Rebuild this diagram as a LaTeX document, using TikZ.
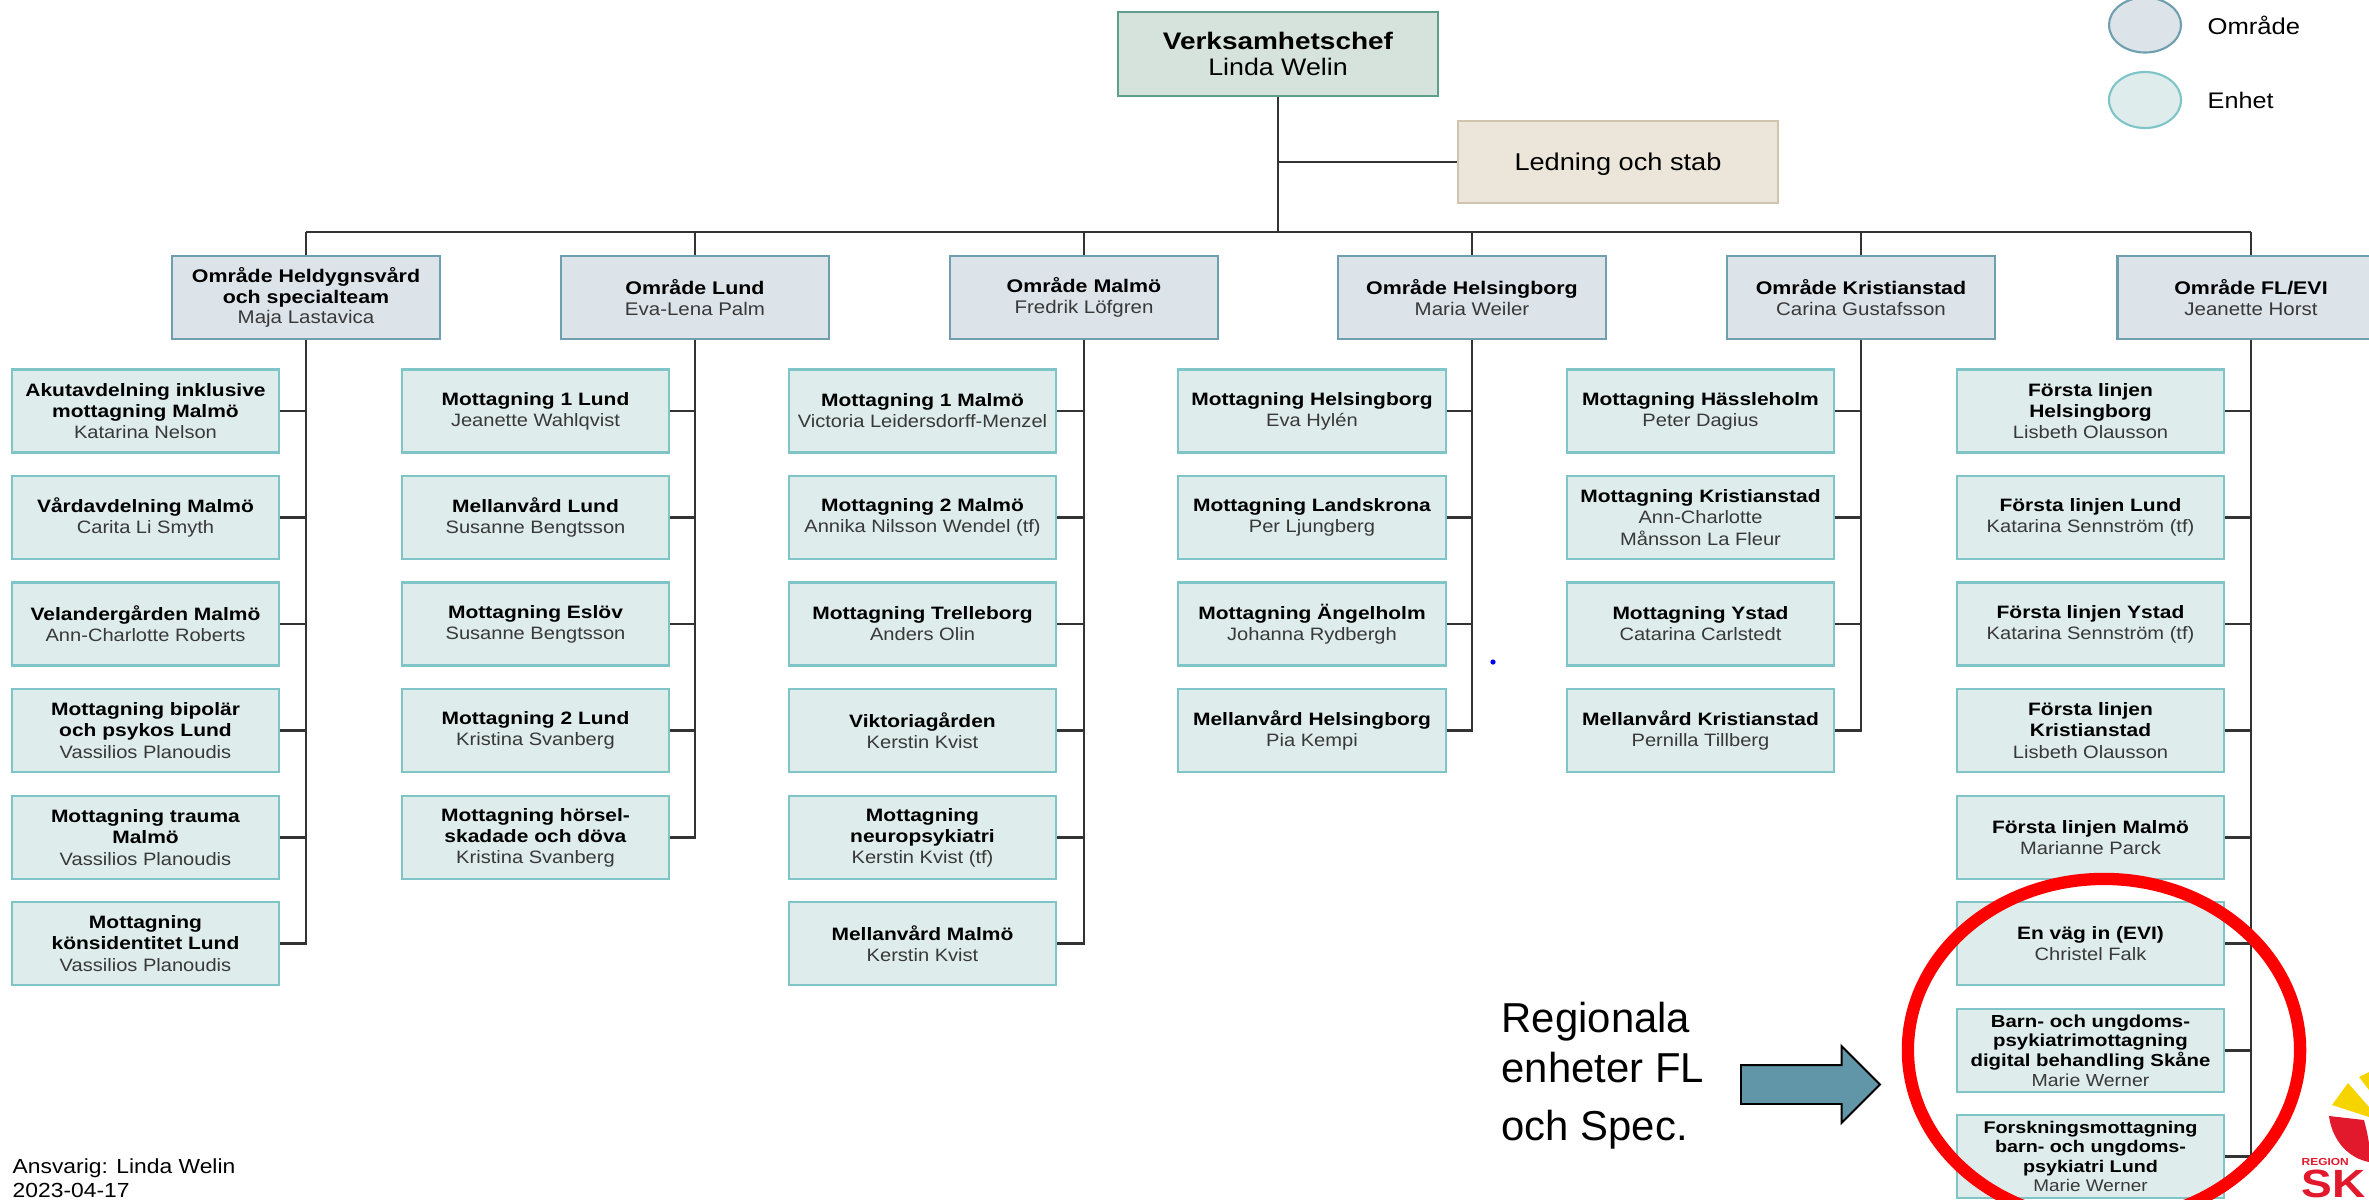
\documentclass[tikz,border=0pt]{standalone}
\usepackage{fontspec}
\setmainfont[FakeStretch=1.12,BoldFeatures={FakeStretch=1.17}]{Liberation Sans}
\newfontfamily\arialfont{Liberation Sans}
\usetikzlibrary{shapes.geometric,shapes.arrows}
\definecolor{unitfill}{HTML}{DEECEC}
\definecolor{unitline}{HTML}{7FC4C6}
\definecolor{areafill}{HTML}{DCE3E9}
\definecolor{arealine}{HTML}{6F9FAF}
\definecolor{chieffill}{HTML}{D6E2DC}
\definecolor{chiefline}{HTML}{5E9F8C}
\definecolor{stabfill}{HTML}{ECE5DA}
\definecolor{stabline}{HTML}{D0C4AE}
\definecolor{arrowfill}{HTML}{6096A8}
\definecolor{logored}{HTML}{E2182D}
\definecolor{logoyellow}{HTML}{F5D400}
\newcommand{\hd}[1]{\textcolor{black}{\textbf{#1}}\\}
\tikzset{
  box/.style={rectangle,align=center,inner sep=0pt,line width=0.6pt,text=black!78,font=\fontsize{5.1}{6}\selectfont},
  unit/.style={box,draw=unitline,fill=unitfill,minimum width=2.67cm,minimum height=0.83cm},
  area/.style={box,draw=arealine,fill=areafill,minimum width=2.67cm,minimum height=0.83cm,font=\fontsize{5.2}{5.9}\selectfont},
  link/.style={draw=black!80,line width=0.6pt},
}
\begin{document}
\begin{tikzpicture}[x=0.01cm,y=-0.01cm]
  \useasboundingbox (0,0) rectangle (2369,1199);

  \node[box,draw=chiefline,fill=chieffill,minimum width=3.2cm,minimum height=0.84cm,text=black,font=\fontsize{6.8}{7.6}\selectfont] at (1278,54) (chef) {\hd{Verksamhetschef}Linda Welin};
  \node[box,draw=stabline,fill=stabfill,minimum width=3.2cm,minimum height=0.82cm,text=black,font=\fontsize{6.9}{7.6}\selectfont] at (1618,162) (stab) {\raisebox{0pt}[4.9pt][0pt]{Ledning och stab}};
  \coordinate (bus) at (1278,232);

  % omraden
  \node[area] at (306,297.5) (heldygn) {\hd{Område Heldygnsvård}\hd{och specialteam}Maja Lastavica};
  \node[area] at (695,297.5) (lund) {\hd{Område Lund}Eva-Lena Palm};
  \node[area] at (1084,297.5) (malmo) {\hd{Område Malmö}Fredrik Löfgren};
  \node[area] at (1472,297.5) (hbg) {\hd{Område Helsingborg}Maria Weiler};
  \node[area] at (1861,297.5) (krist) {\hd{Område Kristianstad}Carina Gustafsson};
  \node[area] at (2251,297.5) (fl) {\hd{Område FL/EVI}Jeanette Horst};

  % enheter under heldygn
  \node[unit] at (145.5,411) (h1) {\hd{Akutavdelning inklusive}\hd{mottagning Malmö}Katarina Nelson};
  \node[unit] at (145.5,517.5) (h2) {\hd{Vårdavdelning Malmö}Carita Li Smyth};
  \node[unit] at (145.5,624) (h3) {\hd{Velandergården Malmö}Ann-Charlotte Roberts};
  \node[unit] at (145.5,730.5) (h4) {\hd{Mottagning bipolär}\hd{och psykos Lund}Vassilios Planoudis};
  \node[unit] at (145.5,837.5) (h5) {\hd{Mottagning trauma}\hd{Malmö}Vassilios Planoudis};
  \node[unit] at (145.5,943.5) (h6) {\hd{Mottagning}\hd{könsidentitet Lund}Vassilios Planoudis};

  % enheter under lund
  \node[unit] at (535.5,411) (l1) {\hd{Mottagning 1 Lund}Jeanette Wahlqvist};
  \node[unit] at (535.5,517.5) (l2) {\hd{Mellanvård Lund}Susanne Bengtsson};
  \node[unit] at (535.5,624) (l3) {\hd{Mottagning Eslöv}Susanne Bengtsson};
  \node[unit] at (535.5,730.5) (l4) {\hd{Mottagning 2 Lund}Kristina Svanberg};
  \node[unit] at (535.5,837.5) (l5) {\hd{Mottagning hörsel-}\hd{skadade och döva}Kristina Svanberg};

  % enheter under malmo
  \node[unit] at (922.5,411) (m1) {\hd{Mottagning 1 Malmö}Victoria Leidersdorff-Menzel};
  \node[unit] at (922.5,517.5) (m2) {\hd{Mottagning 2 Malmö}Annika Nilsson Wendel (tf)};
  \node[unit] at (922.5,624) (m3) {\hd{Mottagning Trelleborg}Anders Olin};
  \node[unit] at (922.5,730.5) (m4) {\hd{Viktoriagården}Kerstin Kvist};
  \node[unit] at (922.5,837.5) (m5) {\hd{Mottagning}\hd{neuropsykiatri}Kerstin Kvist (tf)};
  \node[unit] at (922.5,943.5) (m6) {\hd{Mellanvård Malmö}Kerstin Kvist};

  % enheter under helsingborg
  \node[unit] at (1312,411) (b1) {\hd{Mottagning Helsingborg}Eva Hylén};
  \node[unit] at (1312,517.5) (b2) {\hd{Mottagning Landskrona}Per Ljungberg};
  \node[unit] at (1312,624) (b3) {\hd{Mottagning Ängelholm}Johanna Rydbergh};
  \node[unit] at (1312,730.5) (b4) {\hd{Mellanvård Helsingborg}Pia Kempi};

  % enheter under kristianstad
  \node[unit] at (1700.5,411) (k1) {\hd{Mottagning Hässleholm}Peter Dagius};
  \node[unit] at (1700.5,517.5) (k2) {\hd{Mottagning Kristianstad}Ann-Charlotte\\Månsson La Fleur};
  \node[unit] at (1700.5,624) (k3) {\hd{Mottagning Ystad}Catarina Carlstedt};
  \node[unit] at (1700.5,730.5) (k4) {\hd{Mellanvård Kristianstad}Pernilla Tillberg};

  % enheter under fl/evi
  \node[unit] at (2090.5,411) (f1) {\hd{Första linjen}\hd{Helsingborg}Lisbeth Olausson};
  \node[unit] at (2090.5,517.5) (f2) {\hd{Första linjen Lund}Katarina Sennström (tf)};
  \node[unit] at (2090.5,624) (f3) {\hd{Första linjen Ystad}Katarina Sennström (tf)};
  \node[unit] at (2090.5,730.5) (f4) {\hd{Första linjen}\hd{Kristianstad}Lisbeth Olausson};
  \node[unit] at (2090.5,837.5) (f5) {\hd{Första linjen Malmö}Marianne Parck};
  \node[unit] at (2090.5,943.5) (f6) {\hd{En väg in (EVI)}Christel Falk};
  \node[unit,font=\fontsize{4.95}{5.6}\selectfont] at (2090.5,1050.5) (f7) {\hd{Barn- och ungdoms-}\hd{psykiatrimottagning}\hd{digital behandling Skåne}Marie Werner};
  \node[unit,font=\fontsize{4.8}{5.5}\selectfont] at (2090.5,1156.5) (f8) {\hd{Forskningsmottagning}\hd{barn- och ungdoms-}\hd{psykiatri Lund}Marie Werner};

  \path[link]
    (chef) edge (bus)
    (stab) edge (stab -| chef)
    (bus) edge (bus -| fl) (bus) edge (bus -| heldygn)
    (bus -| fl) edge (fl) (bus -| krist) edge (krist) (bus -| hbg) edge (hbg)
    (bus -| malmo) edge (malmo) (bus -| lund) edge (lund) (bus -| heldygn) edge (heldygn)
    ;
  \draw[link] (h6.east) -| (heldygn.south);
  \draw[link] (h1.east) -- (h1 -| heldygn) (h2.east) -- (h2 -| heldygn) (h3.east) -- (h3 -| heldygn) (h4.east) -- (h4 -| heldygn) (h5.east) -- (h5 -| heldygn);
  \draw[link] (l5.east) -| (lund.south);
  \draw[link] (l1.east) -- (l1 -| lund) (l2.east) -- (l2 -| lund) (l3.east) -- (l3 -| lund) (l4.east) -- (l4 -| lund);
  \draw[link] (m6.east) -| (malmo.south);
  \draw[link] (m1.east) -- (m1 -| malmo) (m2.east) -- (m2 -| malmo) (m3.east) -- (m3 -| malmo) (m4.east) -- (m4 -| malmo) (m5.east) -- (m5 -| malmo);
  \draw[link] (b4.east) -| (hbg.south);
  \draw[link] (b1.east) -- (b1 -| hbg) (b2.east) -- (b2 -| hbg) (b3.east) -- (b3 -| hbg);
  \draw[link] (k4.east) -| (krist.south);
  \draw[link] (k1.east) -- (k1 -| krist) (k2.east) -- (k2 -| krist) (k3.east) -- (k3 -| krist);
  \draw[link] (f8.east) -| (fl.south);
  \draw[link] (f1.east) -- (f1 -| fl) (f2.east) -- (f2 -| fl) (f3.east) -- (f3 -| fl) (f4.east) -- (f4 -| fl) (f5.east) -- (f5 -| fl) (f6.east) -- (f6 -| fl) (f7.east) -- (f7 -| fl);

  % teckenforklaring
  \node[ellipse,draw=arealine,fill=areafill,line width=0.6pt,minimum width=0.72cm,minimum height=0.55cm,inner sep=0pt] at (2145,25) (legarea) {};
  \node[ellipse,draw=unitline,fill=unitfill,line width=0.6pt,minimum width=0.72cm,minimum height=0.56cm,inner sep=0pt] at (2145,100) (legunit) {};
  \node[anchor=west,inner sep=0pt,font=\fontsize{6.5}{7}\selectfont] at (2207,25) (legareatext) {Område};
  \node[anchor=west,inner sep=0pt,font=\fontsize{6.4}{7}\selectfont] at (2207,100) (legunittext) {Enhet};

  \node[anchor=north west,inner sep=0pt,align=left,font=\fontsize{5.8}{6.8}\selectfont] at (12,1158) (footer) {Ansvarig: Linda Welin\\2023-04-17};

  \node[anchor=north west,inner sep=0pt,align=left,font=\arialfont\fontsize{11.9}{14.3}\selectfont] at (1501,1001) (regional) {Regionala\\enheter FL\\[2.1pt]och Spec.};
  \node[single arrow,draw=black,fill=arrowfill,line width=0.55pt,inner sep=0.185cm,minimum width=0.75cm,minimum height=1.39cm,single arrow head extend=0.19cm,single arrow head indent=0pt,anchor=tail] at (1740,1084.5) (pointer) {};
  \node[ellipse,draw=red,line width=3.5pt,minimum width=3.92cm,minimum height=3.42cm,inner sep=0pt] at (2104,1050) (ring) {};

  \fill[blue] (1493,662) circle (2.6);

  % logga
  \fill[logoyellow] (2348,1083) -- (2332,1105) -- (2369,1117) -- (2369,1107) -- cycle;
  \fill[logoyellow] (2359,1077) -- (2369,1072) -- (2369,1090) -- cycle;
  \fill[logored] (2329,1116) -- (2364,1120) -- (2367,1132) -- (2369,1143) -- (2369,1162) .. controls (2348,1158) and (2332,1140) .. cycle;
  \node[anchor=west,inner sep=0pt,text=logored,font=\bfseries\fontsize{2.9}{3}\selectfont] at (2301,1162) (logosmall) {REGION};
  \node[anchor=base west,inner sep=0pt,text=logored,font=\bfseries\fontsize{11.2}{12}\selectfont] at (2301,1197) (logobig) {SK};
\end{tikzpicture}
\end{document}
